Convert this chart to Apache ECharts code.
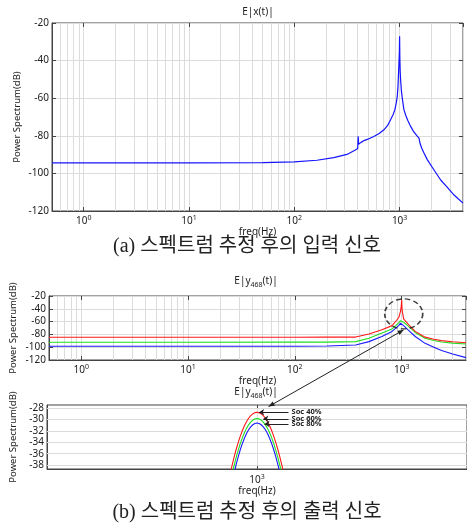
<!DOCTYPE html>
<html>
<head>
<meta charset="utf-8">
<title>Power Spectrum</title>
<script src="https://cdn.jsdelivr.net/npm/echarts@6/dist/echarts.min.js"></script>
<style>html,body{margin:0;padding:0;background:#fff}</style>
</head>
<body>
<div id="main" style="width:467px;height:528px;"></div>
<script type="text/javascript">
// (a) input signal E|x(t)|
var freqA = [0.5, 2, 10, 50, 100, 164, 237, 316, 380, 400, 404, 408, 416, 430, 457, 500, 569, 640, 709, 770, 821, 870, 902, 930, 950, 965, 978, 988, 995, 1000, 1005, 1012, 1022, 1040, 1060, 1099, 1150, 1200, 1273, 1350, 1450, 1528, 1555, 1563, 1570, 1585, 1620, 1700, 1836, 2100, 2455, 2800, 3290, 3600, 4000];
var specA = [-94.4, -94.4, -94.4, -94.3, -93.9, -93.0, -91.6, -89.9, -87.6, -86.8, -80.2, -84.5, -84.1, -83.5, -82.6, -81.8, -80.4, -78.8, -76.8, -74.5, -71.5, -68.5, -66.1, -62.5, -59, -54, -46, -40, -35, -27, -38, -45, -50.1, -56, -60, -66.1, -69.5, -72, -75, -77.5, -79.8, -81.2, -81.6, -80.2, -84.4, -84.8, -86.5, -89, -92.8, -97.8, -103.5, -107, -111.5, -113.5, -115.8];

// (b) output signal E|y468(t)|, full band
var freqB = [0.5, 10, 100, 200, 371, 494, 653, 813, 938, 975, 990, 1000, 1010, 1043, 1161, 1339, 1656, 2000, 2361, 3000, 4000];
var soc40B = [-84.5, -84.5, -84.4, -84.3, -84.2, -79.5, -72.6, -66.3, -54, -44, -36, -26, -42, -55.6, -64.7, -75.3, -84.3, -87.5, -89.7, -91.5, -93.1];
var soc60B = [-92.2, -92.2, -92.1, -92, -91.3, -85.9, -77.9, -71.5, -62, -58.5, -56.5, -55.6, -57.5, -61, -67.4, -76.9, -86, -89.5, -91.8, -93.6, -95.1];
var soc80B = [-98.6, -98.6, -98.5, -98.2, -96.6, -91.3, -83.3, -75.3, -66.3, -62.5, -60.5, -59.4, -62, -66.3, -73.7, -83.3, -94, -100, -105.3, -110.5, -116.3];

// (b) zoom around the 1 kHz peak
var freqZ = [998.6, 998.7, 998.8, 998.9, 999.0, 999.1, 999.2, 999.3, 999.4, 999.5, 999.6, 999.7, 999.8, 999.9, 1000, 1000.1, 1000.2, 1000.3, 1000.4, 1000.5, 1000.6, 1000.7, 1000.8, 1000.9, 1001.0, 1001.1, 1001.2, 1001.3, 1001.4];
var soc40Z = [-41.73, -39.94, -38.28, -36.75, -35.35, -34.09, -32.96, -31.96, -31.09, -30.36, -29.76, -29.30, -28.97, -28.77, -28.70, -28.77, -28.97, -29.30, -29.76, -30.36, -31.09, -31.96, -32.96, -34.09, -35.35, -36.75, -38.28, -39.94, -41.73];
var soc60Z = [-43.46, -41.58, -39.84, -38.23, -36.77, -35.45, -34.26, -33.22, -32.31, -31.54, -30.92, -30.43, -30.08, -29.87, -29.80, -29.87, -30.08, -30.43, -30.92, -31.54, -32.31, -33.22, -34.26, -35.45, -36.77, -38.23, -39.84, -41.58, -43.46];
var soc80Z = [-45.14, -43.14, -41.28, -39.58, -38.02, -36.61, -35.35, -34.24, -33.27, -32.46, -31.79, -31.27, -30.90, -30.67, -30.60, -30.67, -30.90, -31.27, -31.79, -32.46, -33.27, -34.24, -35.35, -36.61, -38.02, -39.58, -41.28, -43.14, -45.14];

var yTicksZ = [-38, -36, -34, -32, -30, -28];
var minorF = [0.6, 0.7, 0.8, 0.9, 2, 3, 4, 5, 6, 7, 8, 9, 20, 30, 40, 50, 60, 70, 80, 90, 200, 300, 400, 500, 600, 700, 800, 900, 2000, 3000];

var FONT = 'Noto Sans';
var TXT = '#222';
var GRIDC = '#dcdcdc';

function pairs(xs, ys) {
  return xs.map(function (x, i) { return [x, ys[i]]; });
}

var supRich = {
  b: { fontSize: 10, color: TXT, fontFamily: FONT, lineHeight: 14 },
  s: { fontSize: 7, color: TXT, fontFamily: FONT, lineHeight: 7, verticalAlign: 'top' }
};
function decade(v) {
  var e = Math.round(Math.log(v) / Math.LN10);
  return '{b|10}{s|' + e + '}';
}

function logX(grid, withName) {
  return {
    type: 'log', gridIndex: grid, min: 0.5, max: 4000, logBase: 10, splitNumber: 4,
    name: withName ? 'freq(Hz)' : '', nameLocation: 'middle', nameGap: 14,
    nameTextStyle: { fontSize: 10, color: TXT, fontFamily: FONT },
    axisLine: { show: true, lineStyle: { color: '#444' } },
    axisTick: { show: true, inside: true, length: 4, lineStyle: { color: '#444' } },
    axisLabel: { margin: 3, formatter: decade, rich: supRich, showMinLabel: false, showMaxLabel: false },
    splitLine: { show: true, lineStyle: { color: GRIDC, width: 1 } },
    minorTick: { show: false }
  };
}
function topX(grid, base) {
  var a = JSON.parse(JSON.stringify(base));
  a.gridIndex = grid;
  a.position = 'top';
  a.name = '';
  a.axisLabel = { show: false };
  a.splitLine = { show: false };
  a.axisLine = { show: false };
  return a;
}
function leftY(grid, min, max, interval, gap) {
  return {
    type: 'value', gridIndex: grid, min: min, max: max, interval: interval,
    name: 'Power Spectrum(dB)', nameLocation: 'middle', nameGap: gap, nameMoveOverlap: false,
    nameTextStyle: { fontSize: 9.5, color: TXT, fontFamily: FONT },
    axisLine: { show: true, lineStyle: { color: '#444' } },
    axisTick: { show: true, inside: true, length: 4, lineStyle: { color: '#444' } },
    axisLabel: { fontSize: 10, color: TXT, fontFamily: FONT, margin: 3 },
    splitLine: { show: true, lineStyle: { color: GRIDC, width: 1 } }
  };
}
function rightY(grid, base) {
  var a = JSON.parse(JSON.stringify(base));
  a.gridIndex = grid;
  a.position = 'right';
  a.name = '';
  a.axisLabel = { show: false };
  a.splitLine = { show: false };
  a.axisLine = { show: false };
  return a;
}
function minorGrid(ix) {
  return {
    type: 'line', xAxisIndex: ix, yAxisIndex: ix, data: [], z: 1,
    markLine: {
      silent: true, symbol: 'none', animation: false, z: 1,
      label: { show: false },
      lineStyle: { color: GRIDC, type: 'solid', width: 1 },
      data: minorF.map(function (v) { return { xAxis: v }; })
    }
  };
}
function curve(ix, xs, ys, color, width) {
  return {
    type: 'line', xAxisIndex: ix, yAxisIndex: ix, data: pairs(xs, ys),
    symbol: 'none', showSymbol: false, z: 3,
    lineStyle: { color: color, width: width }
  };
}
function socArrow(x0, x1, y, text) {
  return [
    { coord: [x0, y], label: { show: true, position: 'start', formatter: text, fontSize: 7.5, fontWeight: 'bold', color: TXT, fontFamily: FONT, distance: 3 } },
    { coord: [x1, y] }
  ];
}

var x0 = logX(0, true), x1 = logX(1, true);
var x2 = {
  type: 'value', gridIndex: 2, min: 990, max: 1010, interval: 10,
  name: 'freq(Hz)', nameLocation: 'middle', nameGap: 15,
  nameTextStyle: { fontSize: 10, color: TXT, fontFamily: FONT },
  axisLine: { show: true, lineStyle: { color: '#444' } },
  axisTick: { show: true, inside: true, length: 4, lineStyle: { color: '#444' } },
  axisLabel: { margin: 4, rich: supRich, showMinLabel: false, showMaxLabel: false,
    formatter: function (v) { return v === 1000 ? '{b|10}{s|3}' : ''; } },
  splitLine: { show: true, lineStyle: { color: GRIDC, width: 1 } }
};
var y0 = leftY(0, -120, -20, 20, 30);
var y1 = leftY(1, -120, -20, 20, 31);
var y2 = leftY(2, -38.7, -27.42, null, 29);
delete y2.interval;
y2.axisLabel.customValues = yTicksZ;
y2.axisTick.customValues = yTicksZ;
y2.splitLine.show = false;

var chart = echarts.init(document.getElementById('main'));
chart.setOption({
  animation: false,
  backgroundColor: '#fff',
  grid: [
    { left: 52, top: 23, width: 411, height: 188, show: true, borderColor: '#444', borderWidth: 1 },
    { left: 46, top: 296, width: 420, height: 64, show: true, borderColor: '#444', borderWidth: 1 },
    { left: 46, top: 405, width: 421, height: 64, show: true, borderColor: '#444', borderWidth: 1 }
  ],
  xAxis: [x0, x1, x2, topX(0, x0), topX(1, x1), topX(2, x2)],
  yAxis: [y0, y1, y2, rightY(0, y0), rightY(1, y1), rightY(2, y2)],
  series: [
    minorGrid(0),
    minorGrid(1),
    {
      // horizontal grid of the zoomed view
      type: 'line', xAxisIndex: 2, yAxisIndex: 2, data: [], z: 1,
      markLine: {
        silent: true, symbol: 'none', animation: false, z: 1,
        label: { show: false },
        lineStyle: { color: GRIDC, type: 'solid', width: 1 },
        data: yTicksZ.map(function (v) { return { yAxis: v }; })
      }
    },
    curve(0, freqA, specA, '#1414ff', 1.2),
    curve(1, freqB, soc80B, '#1a1aff', 1.1),
    curve(1, freqB, soc60B, '#22dd22', 1.1),
    curve(1, freqB, soc40B, '#ff1a1a', 1.1),
    {
      type: 'scatter', xAxisIndex: 1, yAxisIndex: 1, data: [[1045, -48]], silent: true, z: 4,
      symbol: 'circle', symbolSize: [38, 30],
      itemStyle: { color: 'rgba(0,0,0,0)', borderColor: '#111', borderWidth: 1.5, borderType: [5, 3] }
    },
    curve(2, freqZ, soc80Z, '#1a1aff', 1.1),
    curve(2, freqZ, soc60Z, '#22dd22', 1.1),
    curve(2, freqZ, soc40Z, '#ff1a1a', 1.1),
    {
      type: 'line', xAxisIndex: 2, yAxisIndex: 2, data: [], z: 5,
      markLine: {
        silent: true, animation: false, symbol: ['none', 'arrow'], symbolSize: 5,
        lineStyle: { color: '#222', type: 'solid', width: 1 },
        data: [
          socArrow(1001.5, 1000.1, -28.7, 'Soc 40%'),
          socArrow(1001.5, 1000.3, -29.85, 'Soc 60%'),
          socArrow(1001.5, 1000.36, -30.75, 'Soc 80%')
        ]
      }
    }
  ]
});

// connector arrow from the circled peak to the zoomed view
var p1 = chart.convertToPixel({ xAxisIndex: 1, yAxisIndex: 1 }, [1043, -73]);
var p2 = chart.convertToPixel({ xAxisIndex: 2, yAxisIndex: 2 }, [1000.55, -27.7]);
function head(tip, from) {
  var dx = tip[0] - from[0], dy = tip[1] - from[1];
  var len = Math.sqrt(dx * dx + dy * dy);
  var ux = dx / len, uy = dy / len, L = 6, W = 2.4;
  return [tip, [tip[0] - ux * L - uy * W, tip[1] - uy * L + ux * W], [tip[0] - ux * L + uy * W, tip[1] - uy * L - ux * W]];
}

function label(text, x, y, size, rich) {
  return {
    type: 'text', x: x, y: y, silent: true,
    style: { text: text, fontSize: size, fontFamily: FONT, fill: TXT, align: 'center', verticalAlign: 'middle', rich: rich }
  };
}
var subRich = {
  b: { fontSize: 10, fontFamily: FONT, fill: TXT, lineHeight: 14 },
  d: { fontSize: 7, fontFamily: FONT, fill: TXT, lineHeight: 7, verticalAlign: 'bottom' }
};
var CAP = "'Liberation Serif', 'Noto Sans CJK KR'";

chart.setOption({
  graphic: [
    label('E|x(t)|', 258, 12, 10),
    label('{b|E|y}{d|468}{b|(t)|}', 256, 281, 10, subRich),
    label('{b|E|y}{d|468}{b|(t)|}', 256, 392, 10, subRich),
    {
      type: 'text', x: 247, y: 247, silent: true,
      style: { text: '(a) 스펙트럼 추정 후의 입력 신호', fontSize: 20, fontFamily: CAP, fill: '#222', align: 'center', verticalAlign: 'middle' }
    },
    {
      type: 'text', x: 247, y: 513, silent: true,
      style: { text: '(b) 스펙트럼 추정 후의 출력 신호', fontSize: 20, fontFamily: CAP, fill: '#222', align: 'center', verticalAlign: 'middle' }
    },
    { type: 'line', silent: true, z: 10, shape: { x1: p1[0], y1: p1[1], x2: p2[0], y2: p2[1] }, style: { stroke: '#222', lineWidth: 1 } },
    { type: 'polygon', silent: true, z: 10, shape: { points: head(p1, p2) }, style: { fill: '#222' } },
    { type: 'polygon', silent: true, z: 10, shape: { points: head(p2, p1) }, style: { fill: '#222' } }
  ]
});
</script>
</body>
</html>
